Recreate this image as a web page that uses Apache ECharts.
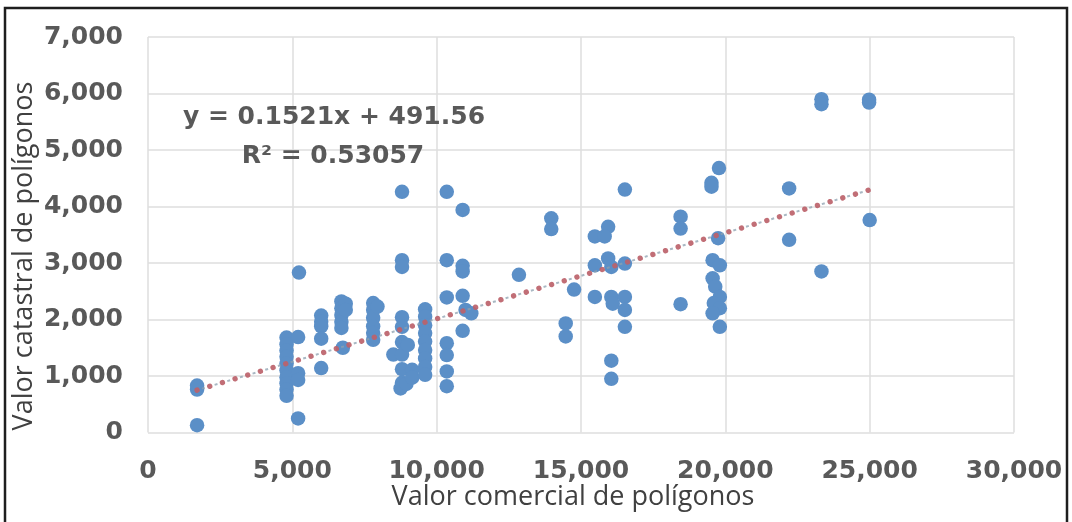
<!DOCTYPE html>
<html>
<head>
<meta charset="utf-8">
<script src="https://cdn.jsdelivr.net/npm/echarts@6/dist/echarts.min.js"></script>
<style>
  html, body { margin: 0; padding: 0; background: #ffffff; }
  #chart { width: 1072px; height: 522px; }
</style>
</head>
<body>
<div id="chart"></div>
<script>
// Commercial value (x) and cadastral value (y) of each polygon
const commercialValues = [
  1700, 1700, 1700,
  4800, 4800, 4800, 4800, 4800, 4800, 4800, 4800, 4800, 4800,
  5200, 5200, 5200, 5200, 5230,
  6000, 6000, 6000, 6000, 6000,
  6700, 6700, 6700, 6700, 6700, 6750, 6850, 6850,
  7800, 7800, 7800, 7800, 7800, 7800, 7950,
  8500, 8800, 8800, 8800, 8800, 8800, 8800, 8800, 8800, 8800, 8750, 8950, 9000, 9150, 9150,
  9600, 9600, 9600, 9600, 9600, 9600, 9600, 9600, 9600,
  10350, 10350, 10350, 10350, 10350, 10350, 10350,
  10900, 10900, 10900, 10900, 10900, 11000, 11200,
  12850, 13970, 13970, 14470, 14470, 14760,
  15480, 15480, 15480, 15940, 15820, 15940, 16050, 16050, 16100, 16050, 16050,
  16520, 16520, 16520, 16520, 16520,
  18450, 18450, 18450,
  19780, 19520, 19520, 19750, 19560, 19810, 19560, 19650, 19810, 19600, 19810, 19560, 19810,
  22210, 22210,
  23330, 23330, 23330,
  24980, 24980, 25000
];
const cadastralValues = [
  760, 830, 130,
  1680, 1560, 1450, 1340, 1220, 1100, 980, 870, 760, 650,
  1690, 1050, 930, 250, 2830,
  2070, 1960, 1880, 1660, 1140,
  2320, 2200, 2080, 1960, 1850, 1500, 2280, 2170,
  2290, 2170, 2030, 1880, 1760, 1640, 2230,
  1380, 4260, 3050, 2930, 2040, 1870, 1600, 1380, 1120, 880, 780, 860, 1550, 1110, 970,
  2180, 2050, 1900, 1760, 1610, 1460, 1310, 1160, 1020,
  4260, 3050, 2390, 1580, 1370, 1080, 820,
  3940, 2950, 2850, 2420, 1800, 2170, 2110,
  2790, 3790, 3600, 1930, 1700, 2530,
  3470, 2960, 2400, 3640, 3470, 3080, 2930, 2400, 2280, 1270, 950,
  4300, 2990, 2400, 2170, 1870,
  3820, 3610, 2270,
  4680, 4420, 4350, 3440, 3050, 2960, 2730, 2580, 2400, 2290, 2200, 2110, 1870,
  4320, 3410,
  5900, 5810, 2850,
  5890, 5840, 3760
];

// Linear trend fitted in the spreadsheet
const trendSlope = 0.1521;
const trendIntercept = 491.56;
const trendR2 = '0.53057';

// Axis ranges and tick steps: [min, max, interval]
const xTicks = [0, 30000, 5000];
const yTicks = [0, 7000, 1000];

const points = commercialValues.map((x, i) => [x, cadastralValues[i]]);
const xMin = Math.min(...commercialValues);
const xMax = Math.max(...commercialValues);
const trendPoints = [xMin, xMax].map(x => [x, trendSlope * x + trendIntercept]);

const withCommas = v => String(v).replace(/\B(?=(\d{3})+(?!\d))/g, ',');

const gridColor = '#dedede';
const tickFont = { fontFamily: 'DejaVu Sans', fontWeight: 'bold', fontSize: 25, color: '#595959' };

const chart = echarts.init(document.getElementById('chart'), null, { renderer: 'canvas' });
chart.setOption({
  backgroundColor: '#ffffff',
  animation: false,
  grid: { left: 148, right: 58, top: 37, bottom: 89.5, containLabel: false },
  xAxis: {
    type: 'value',
    min: xTicks[0], max: xTicks[1], interval: xTicks[2],
    axisLine: { show: false },
    axisTick: { show: false },
    splitLine: { show: true, lineStyle: { color: gridColor, width: 1.5 } },
    axisLabel: Object.assign({ margin: 26, formatter: withCommas }, tickFont)
  },
  yAxis: {
    type: 'value',
    min: yTicks[0], max: yTicks[1], interval: yTicks[2],
    axisLine: { show: false },
    axisTick: { show: false },
    splitLine: { show: true, lineStyle: { color: gridColor, width: 1.5 } },
    axisLabel: Object.assign({ margin: 25, padding: [6, 0, 0, 0], formatter: withCommas }, tickFont)
  },
  series: [
    {
      type: 'scatter',
      data: points,
      symbol: 'circle',
      symbolSize: 14.5,
      itemStyle: { color: '#5b8fc7', opacity: 1 },
      z: 2
    },
    {
      // grey dashes between the trend dots
      type: 'line',
      data: trendPoints,
      showSymbol: false,
      lineStyle: { color: 'rgba(140,160,175,0.75)', width: 2, type: [3, 10.2], dashOffset: 8.1 },
      z: 3
    },
    {
      // round dots of the trend line
      type: 'line',
      data: trendPoints,
      showSymbol: false,
      lineStyle: { color: 'rgba(188,98,106,0.92)', width: 5.4, type: [0.01, 13.2], cap: 'round' },
      z: 4
    }
  ],
  graphic: {
    elements: [
      {
        type: 'rect',
        shape: { x: 5, y: 8, width: 1062, height: 530 },
        style: { fill: 'none', stroke: '#1e1e1e', lineWidth: 2.5 },
        silent: true,
        z: 100
      },
      {
        type: 'text',
        x: 334, y: 117, z: 100,
        style: {
          text: 'y = ' + trendSlope + 'x + ' + trendIntercept,
          font: 'bold 25px "DejaVu Sans"', fill: '#595959',
          align: 'center', verticalAlign: 'middle'
        }
      },
      {
        type: 'text',
        x: 333, y: 156, z: 100,
        style: {
          text: 'R² = ' + trendR2,
          font: 'bold 25px "DejaVu Sans"', fill: '#595959',
          align: 'center', verticalAlign: 'middle'
        }
      },
      {
        type: 'text',
        x: 573, y: 497, z: 100,
        style: {
          text: 'Valor comercial de polígonos',
          font: '27px "Open Sans"', fill: '#404040',
          align: 'center', verticalAlign: 'middle'
        }
      },
      {
        type: 'text',
        x: 24, y: 256, z: 100,
        rotation: Math.PI / 2,
        style: {
          text: 'Valor catastral de polígonos',
          font: '27px "Open Sans"', fill: '#404040',
          align: 'center', verticalAlign: 'middle'
        }
      }
    ]
  }
});
</script>
</body>
</html>
